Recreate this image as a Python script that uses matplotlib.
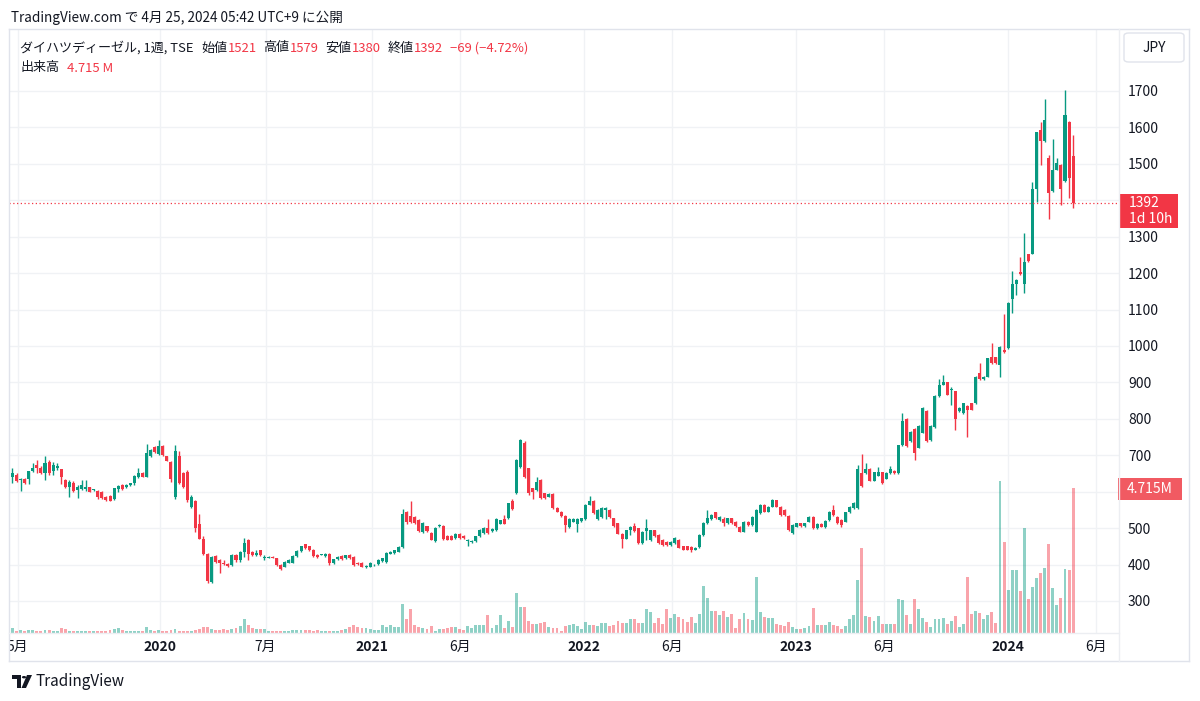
import numpy as np
import pandas as pd
import matplotlib
matplotlib.use('Agg')
import matplotlib.pyplot as plt
import matplotlib.dates as mdates
from matplotlib.patches import Rectangle, FancyBboxPatch, Polygon, Circle
from matplotlib.transforms import blended_transform_factory

plt.rcParams['font.family'] = ['Noto Sans CJK JP', 'DejaVu Sans']

# ---------------- data (weekly candles, TSE 6023) ----------------
first_week = '2019-04-22'
opens = [
 641,647,632,636,634,657,672,666,652,682, 657,664,661,632,612,625,605,606,606,612,
 604,603,600,586,588,580,606,618,612,618, 623,641,652,641,697,723,703,725,697,682,
 585,697,650,654,559,573,512,470,430,352, 423,412,405,401,398,426,412,435,467,435,
 425,439,418,419,421,417,398,394,405,405, 423,437,455,450,441,426,427,423,430,403,
 414,423,417,426,421,405,405,393,394,398, 401,410,407,430,432,435,447,543,534,530,
 523,488,505,486,464,506,506,479,479,473, 484,478,464,461,464,477,486,500,492,495,
 512,525,527,575,595,668,734,664,609,605, 632,595,586,594,555,545,534,503,518,510,
 520,525,564,575,525,531,550,550,527,513, 485,471,494,505,499,459,493,467,494,481,
 467,462,453,459,467,450,450,448,441,448, 481,513,524,543,522,524,513,527,518,504,
 490,518,508,490,541,564,545,559,576,559, 550,533,487,504,513,506,518,531,499,511,
 503,522,550,530,522,518,543,555,555,651, 651,662,630,644,653,636,651,657,651,727,
 800,739,773,721,762,821,742,778,862,894, 900,878,875,821,816,836,842,842,925,909,
 916,971,969,948,989,994,1130,1171,1203,1169, 1251,1253,1430,1594,1562,1516,1425,1484,1498,1453,
 1616,1521]
highs = [
 666,650,638,638,658,679,688,670,697,688, 682,679,662,636,632,628,618,632,632,614,
 608,604,601,588,590,611,618,620,620,625, 645,664,654,730,718,726,741,727,699,684,
 727,712,655,660,590,576,540,477,432,424, 426,414,412,403,428,428,437,474,469,437,
 439,441,426,423,423,419,401,409,414,425, 439,452,457,452,443,428,430,432,432,416,
 423,425,427,428,423,407,407,398,407,402, 414,419,434,437,441,451,552,546,575,532,
 525,516,507,488,502,511,508,481,481,486, 486,480,470,467,479,497,502,525,500,527,
 523,536,570,580,690,745,740,666,611,641, 634,597,595,596,557,548,536,527,527,527,
 529,566,589,577,552,558,558,552,529,515, 487,496,506,513,501,492,524,496,496,483,
 469,464,464,476,469,452,452,450,448,483, 517,550,538,545,532,530,529,529,520,506,
 520,520,533,552,566,566,561,580,578,561, 552,535,510,515,515,515,533,533,513,513,
 522,547,564,532,524,545,561,571,672,703, 680,664,655,667,655,653,671,659,729,816,
 802,766,775,782,832,823,782,864,909,921, 902,886,877,832,844,838,844,918,953,918,
 968,1007,971,1000,1089,1120,1205,1184,1245,1310, 1253,1450,1588,1616,1677,1525,1568,1516,1500,1703,
 1618,1579]
lows = [
 625,626,602,620,620,654,650,648,632,646, 645,660,620,610,586,600,582,604,603,598,
 602,580,579,574,573,578,600,604,610,616, 618,638,639,640,694,705,700,697,683,627,
 580,620,610,572,555,490,470,425,348,348, 403,377,399,393,395,408,408,420,412,424,
 423,424,412,417,417,395,386,392,403,403, 421,435,442,437,421,419,425,421,400,401,
 412,412,415,415,396,399,392,391,392,396, 399,408,405,428,430,433,445,512,514,512,
 488,486,489,466,462,504,468,466,466,471, 471,471,452,459,462,475,484,484,490,493,
 510,510,525,550,593,664,638,590,580,603, 580,580,584,553,543,530,490,501,516,490,
 518,523,562,539,523,529,524,528,504,483, 445,469,480,490,457,457,467,465,476,457,
 451,451,451,457,444,439,439,435,439,446, 479,511,522,525,520,505,511,511,504,488,
 488,507,506,488,539,543,543,557,557,534, 534,492,485,502,504,504,516,497,497,502,
 501,520,534,511,504,516,541,553,552,612, 648,628,628,642,622,634,649,649,649,725,
 722,737,687,719,760,737,740,776,860,892, 864,837,770,819,814,750,823,840,907,907,
 914,951,951,915,980,992,1090,1140,1196,1145, 1231,1251,1396,1498,1560,1348,1423,1482,1386,1451,
 1407,1380]
closes = [
 650,630,636,623,657,666,664,652,680,650, 673,670,641,614,627,603,612,618,612,600,
 606,586,582,577,575,609,615,606,618,623, 643,650,641,705,715,709,725,700,685,636,
 712,623,614,577,586,500,470,430,355,421, 407,403,401,395,426,412,435,458,430,426,
 432,426,421,421,419,398,389,407,412,423, 437,450,444,439,423,421,428,430,403,414,
 421,414,425,417,398,401,394,396,405,400, 412,417,432,435,439,449,540,518,518,515,
 491,514,491,468,500,509,470,468,468,484, 473,473,468,465,477,495,500,486,498,525,
 521,512,568,552,686,741,641,595,600,627, 582,582,593,555,545,534,509,525,525,525,
 527,564,575,541,550,555,556,530,506,485, 471,494,504,492,459,490,499,494,478,459,
 453,453,462,474,446,441,441,439,446,481, 515,527,536,527,530,513,527,513,506,490,
 518,509,531,550,564,545,559,578,559,536, 536,494,508,513,506,513,531,499,511,504,
 520,545,536,513,508,543,559,569,662,616, 662,630,653,653,624,651,662,651,727,794,
 725,764,707,780,830,739,780,862,894,900, 866,882,800,830,842,825,825,916,909,916,
 966,953,953,998,982,1118,1169,1182,1198,1230, 1233,1430,1586,1562,1619,1421,1484,1503,1430,1635,
 1462,1392]
volumes_m = [
 0.17,0.06,0.11,0.08,0.11,0.11,0.07,0.08,0.09,0.09, 0.08,0.06,0.17,0.13,0.08,0.07,0.07,0.07,0.08,0.08,
 0.07,0.06,0.07,0.08,0.10,0.13,0.15,0.09,0.08,0.07, 0.08,0.07,0.08,0.21,0.09,0.06,0.09,0.06,0.08,0.10,
 0.13,0.07,0.06,0.06,0.08,0.11,0.13,0.21,0.18,0.12, 0.11,0.11,0.14,0.10,0.14,0.17,0.24,0.44,0.27,0.17,
 0.14,0.14,0.13,0.08,0.06,0.08,0.07,0.07,0.08,0.10, 0.10,0.10,0.10,0.09,0.08,0.09,0.08,0.08,0.07,0.07,
 0.08,0.09,0.13,0.20,0.27,0.21,0.17,0.17,0.13,0.10, 0.10,0.27,0.19,0.25,0.19,0.19,0.93,0.44,0.77,0.27,
 0.19,0.17,0.13,0.24,0.08,0.14,0.14,0.17,0.20,0.19, 0.14,0.11,0.24,0.17,0.27,0.27,0.27,0.60,0.17,0.25,
 0.58,0.17,0.38,0.19,1.31,0.84,0.85,0.38,0.30,0.30, 0.33,0.36,0.19,0.16,0.16,0.08,0.22,0.25,0.30,0.22,
 0.14,0.36,0.25,0.25,0.22,0.33,0.32,0.23,0.25,0.38, 0.33,0.33,0.44,0.44,0.33,0.32,0.77,0.69,0.33,0.49,
 0.30,0.77,0.49,0.63,0.52,0.47,0.36,0.52,0.33,0.63, 1.54,1.15,0.71,0.71,0.60,0.73,0.52,0.63,0.16,0.44,
 0.66,0.47,0.41,1.83,0.69,0.52,0.49,0.49,0.30,0.25, 0.23,0.36,0.19,0.14,0.14,0.16,0.22,0.82,0.27,0.25,
 0.27,0.36,0.27,0.22,0.14,0.22,0.44,0.58,1.72,2.77, 0.55,0.52,0.38,0.55,0.30,0.30,0.30,0.30,1.09,1.06,
 0.58,0.30,1.10,0.77,0.49,0.36,0.19,0.44,0.44,0.49, 0.30,0.38,0.55,0.19,0.30,1.83,0.63,0.71,0.66,0.44,
 0.60,0.69,0.33,4.93,2.96,1.41,2.05,2.03,1.37,3.42, 1.10,1.48,1.79,1.94,2.12,2.88,1.46,0.91,1.15,2.08,
 2.05,4.715]

price_ticks = [300, 400, 500, 600, 700, 800, 900, 1000, 1100, 1200, 1300, 1400, 1500, 1600, 1700]
hidden_price_labels = [600, 1400]
time_tick_dates = ['2019-05-01', '2020-01-01', '2020-07-01', '2021-01-01', '2021-06-01',
                   '2022-01-01', '2022-06-01', '2023-01-01', '2023-06-01', '2024-01-01', '2024-06-01']
time_tick_labels = ['5月', '2020', '7月', '2021', '6月', '2022', '6月', '2023', '6月', '2024', '6月']
time_tick_bold = [False, True, False, True, False, True, False, True, False, True, False]

title_text = 'TradingView.com で 4月 25, 2024 05:42 UTC+9 に公開'
symbol_text = 'ダイハツディーゼル, 1週, TSE'
ohlc_labels = ['始値', '高値', '安値', '終値']
last_open, last_high, last_low, last_close = 1521, 1579, 1380, 1392
change_text = '−69 (−4.72%)'
volume_label = '出来高'
last_volume_text = '4.715 M'
last_volume = 4.715
countdown_text = '1d 10h'

# ---------------- styling ----------------
GREEN = '#089981'
RED = '#f23645'
TXT = '#131722'
GRID = '#f0f2f5'
FRAME = '#e0e3eb'

W, H = 1200, 701
fig = plt.figure(figsize=(W / 100, H / 100), dpi=100)
fig.patch.set_facecolor('white')

def fx(px):
    return px / W

def fy(py):
    return 1 - py / H

L, R, T, B = 9, 1119, 29, 633
rect = [fx(L), fy(B), fx(R) - fx(L), (B - T) / H]
ax_vol = fig.add_axes(rect)
ax = fig.add_axes(rect, sharex=ax_vol)
ax.patch.set_visible(False)

n = len(closes)
dates = pd.date_range(first_week, periods=n, freq='7D')
xd = mdates.date2num(dates)
o = np.array(opens, float)
h = np.array(highs, float)
l = np.array(lows, float)
c = np.array(closes, float)
v = np.array(volumes_m, float)
up = c >= o
colors = np.where(up, GREEN, RED)

x0 = mdates.date2num(pd.Timestamp('2019-04-16'))
x1 = mdates.date2num(pd.Timestamp('2024-07-10'))
ax.set_xlim(x0, x1)
ax.set_ylim(212, 1870)
ax_vol.set_ylim(0, 19.6)

# grid (drawn in the lower volume axes so bars sit above it)
hb = blended_transform_factory(ax_vol.transAxes, ax.transData)
for p in price_ticks:
    ax_vol.plot([0, 1], [p, p], transform=hb, color=GRID, lw=1, zorder=0)
for d in time_tick_dates:
    ax_vol.axvline(mdates.date2num(pd.Timestamp(d)), color=GRID, lw=1, zorder=0)

# volume bars
ax_vol.bar(xd, v, width=5.0, color=colors, alpha=0.45, linewidth=0, zorder=2)

# candles
ax.vlines(xd, l, h, colors=colors, linewidth=1.0, zorder=3)
body_bottom = np.minimum(o, c)
body_height = np.maximum(np.abs(c - o), 1.4)
ax.bar(xd, body_height, bottom=body_bottom, width=5.2, color=colors, linewidth=0, zorder=4)

# last price dotted line
ax.axhline(last_close, color=RED, lw=0.9, ls=(0, (1, 2)), zorder=5)

for a in (ax, ax_vol):
    for s in a.spines.values():
        s.set_visible(False)
    a.tick_params(length=0)
ax_vol.set_xticks([])
ax_vol.set_yticks([])
ax.set_xticks([])
ax.yaxis.tick_right()
ax.set_yticks(price_ticks)
ax.set_yticklabels(['' if p in hidden_price_labels else str(p) for p in price_ticks])
ax.tick_params(axis='y', colors=TXT, labelsize=10, pad=6.5)

# time axis labels
ax_t = fig.add_axes([fx(L), fy(661), fx(R) - fx(L), (661 - B) / H], sharex=ax_vol)
ax_t.set_ylim(0, 1)
ax_t.axis('off')
for d, lab, b in zip(time_tick_dates, time_tick_labels, time_tick_bold):
    ax_t.text(mdates.date2num(pd.Timestamp(d)), 0.5, lab, ha='center', va='center',
              fontsize=10, color=TXT, fontweight='bold' if b else 'normal', clip_on=True)

# frame lines
def fline(xa, ya, xb, yb, col=FRAME, lw=1):
    fig.add_artist(plt.Line2D([fx(xa), fx(xb)], [fy(ya), fy(yb)], color=col, lw=lw,
                              transform=fig.transFigure))
fline(L, T, 1189, T)
fline(L, 661, 1189, 661)
fline(L, T, L, 661)
fline(1189, T, 1189, 661)
fline(L, B, R, B, col='#eceef2')
fline(R, T, R, 661, col='#eceef2')

fig.canvas.draw()
renderer = fig.canvas.get_renderer()

# last price label box
ypx = ax.transData.transform((x0, last_close))[1]
ytop = H - ypx
fig.add_artist(Rectangle((fx(1119), fy(ytop + 25)), fx(1178) - fx(1119), 34 / H,
                         transform=fig.transFigure, facecolor=RED, edgecolor='none'))
fig.text(fx(1129), fy(ytop), str(last_close), color='white', fontsize=10, va='center', ha='left')
fig.text(fx(1129), fy(ytop + 16), countdown_text, color='white', fontsize=10, va='center', ha='left')

# last volume label box
vpx = ax_vol.transData.transform((x0, last_volume))[1]
vtop = H - vpx + 1
fig.add_artist(Rectangle((fx(1118), fy(vtop + 11)), fx(1182) - fx(1118), 22 / H,
                         transform=fig.transFigure, facecolor='#f15a62', edgecolor='none'))
fig.text(fx(1150), fy(vtop), '4.715M', color='white', fontsize=10, va='center', ha='center')

# JPY box
fig.add_artist(FancyBboxPatch((fx(1124), fy(62)), fx(1184) - fx(1124), 29 / H,
                              boxstyle='round,pad=0,rounding_size=0.004',
                              transform=fig.transFigure, facecolor='white',
                              edgecolor='#e0e3eb', lw=1))
fig.text(fx(1154), fy(47.5), 'JPY', color=TXT, fontsize=10, va='center', ha='center')

# header texts
fig.text(fx(11), fy(18), title_text, color=TXT, fontsize=9.8, va='center', ha='left')

def seq(xstart, ypos, pieces, size=9.4):
    xc = xstart
    for txt, col, gap in pieces:
        t = fig.text(fx(xc), fy(ypos), txt, color=col, fontsize=size, va='center', ha='left')
        bb = t.get_window_extent(renderer)
        xc += bb.width + gap

legend_pieces = [(symbol_text, TXT, 8)]
for lab, val in zip(ohlc_labels, [last_open, last_high, last_low, last_close]):
    legend_pieces.append((lab, TXT, 0))
    legend_pieces.append((str(val), RED, 7))
legend_pieces.append((change_text, RED, 0))
seq(20, 48, legend_pieces)
seq(20, 68, [(volume_label, TXT, 8), (last_volume_text, RED, 0)])

# TradingView logo
fig.add_artist(Polygon([[fx(12), fy(675)], [fx(21), fy(675)], [fx(21), fy(688)], [fx(17), fy(688)],
                        [fx(17), fy(679)], [fx(12), fy(679)]], closed=True,
                       transform=fig.transFigure, facecolor=TXT, edgecolor='none'))
fig.add_artist(Circle((fx(24), fy(677.2)), 2.1 / W, transform=fig.transFigure,
                      facecolor=TXT, edgecolor='none'))
fig.add_artist(Polygon([[fx(27), fy(675)], [fx(32), fy(675)], [fx(26), fy(688)], [fx(21.5), fy(688)]],
                       closed=True, transform=fig.transFigure, facecolor=TXT, edgecolor='none'))
fig.text(fx(36), fy(681), 'TradingView', color=TXT, fontsize=11, va='center', ha='left')

fig.savefig('out.png', dpi=100, facecolor='white')
